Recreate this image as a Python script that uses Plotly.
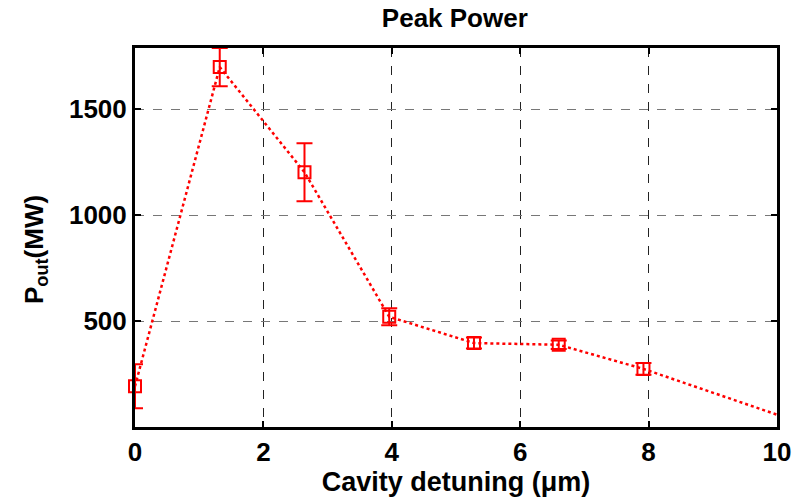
import plotly.graph_objects as go

detuning = [0, 1.32, 2.64, 3.96, 5.28, 6.60, 7.92, 10.56]
power = [192, 1698, 1202, 520, 396, 388, 274, 0]
power_err = [104, 90, 137, 40, 26, 20, 28, 0]

x_ticks = [0, 2, 4, 6, 8, 10]
y_ticks = [500, 1000, 1500]

FONT = "Liberation Sans"
RED = "#ff0000"

fig = go.Figure()
fig.add_trace(go.Scatter(
    x=detuning, y=power,
    mode="lines+markers",
    line=dict(color=RED, width=2.5, dash="dot"),
    marker=dict(symbol="square-open", size=12, color=RED, line=dict(width=2, color=RED)),
    error_y=dict(type="data", array=power_err, visible=True, color=RED, thickness=2, width=8),
    cliponaxis=False,
    showlegend=False,
))

fig.update_layout(
    width=805, height=504,
    margin=dict(l=135, r=28, t=48, b=77),
    paper_bgcolor="white", plot_bgcolor="white",
    title=dict(text="<b>Peak Power</b>", x=0.565, xanchor="center", y=0.982, yanchor="top",
               font=dict(family=FONT, size=26, color="black")),
    font=dict(family=FONT, color="black"),
    annotations=[dict(
        text="<b>P<sub>out</sub>(MW)</b>", textangle=-90,
        xref="paper", yref="paper", x=0, y=0.467,
        xanchor="center", yanchor="middle", xshift=-100, showarrow=False,
        font=dict(size=26, family=FONT, color="black"),
    )],
)
fig.update_xaxes(
    range=[0, 10], tickvals=x_ticks, ticktext=[f"<b>{v}</b>" for v in x_ticks],
    tickfont=dict(size=26, family=FONT, color="black"),
    showgrid=True, gridcolor="#222", griddash="dash", gridwidth=1,
    showline=True, linecolor="black", linewidth=3, mirror="ticks",
    ticks="inside", ticklen=6, tickwidth=2, tickcolor="black",
    zeroline=False,
    title=dict(text="<b>Cavity detuning (μm)</b>", font=dict(size=27, family=FONT, color="black"), standoff=5),
)
fig.update_yaxes(
    range=[0, 1788], tickvals=y_ticks, ticktext=[f"<b>{v}</b>" for v in y_ticks],
    tickfont=dict(size=26, family=FONT, color="black"),
    showgrid=True, gridcolor="#777", griddash="dash", gridwidth=1,
    showline=True, linecolor="black", linewidth=3, mirror="ticks",
    ticks="inside", ticklen=6, tickwidth=2, tickcolor="black",
    zeroline=False,
)

fig.write_html("out.html")
